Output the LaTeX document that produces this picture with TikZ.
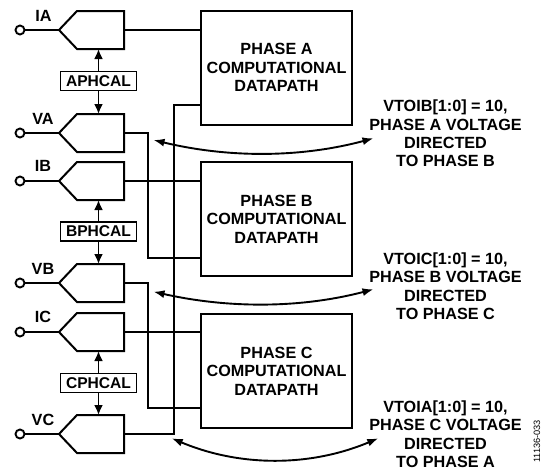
\documentclass[tikz,border=0pt]{standalone}
\usepackage{fontspec}
\setmainfont{Liberation Sans}
\usetikzlibrary{arrows.meta,calc}
\begin{document}
\begin{tikzpicture}[x=1pt,y=-1pt,
  wire/.style={line width=1.9pt},
  txt/.style={font=\fontsize{16.2}{18.4}\selectfont\bfseries, align=center, inner sep=0},
  dpbox/.style={draw, line width=2pt, minimum width=151pt, minimum height=114pt, txt},
  calbox/.style={draw, line width=1.9pt, minimum width=76pt, minimum height=19pt, txt, font=\fontsize{15.6}{18}\selectfont\bfseries},
  inpin/.style={draw, circle, line width=1.9pt, minimum size=9pt, inner sep=0},
  calarrow/.style={line width=1.9pt, -{Latex[length=10pt,width=9pt]}},
  vtarrow/.style={line width=1.9pt, {Latex[length=11pt,width=8pt]}-{Latex[length=11pt,width=8pt]}},
  amp/.pic={
    \draw[line width=2pt, line join=miter] (0,0) -- (18,-19) -- (65,-19) -- (65,19) -- (18,19) -- cycle;
    \coordinate (-tip) at (0,0);
    \coordinate (-out) at (65,0);
    \coordinate (-top) at (39.5,-19);
    \coordinate (-bot) at (39.5,19);
  }
]
\useasboundingbox (0,0) rectangle (545,474);

% amplifiers
\pic (ia) at (59,30) {amp};
\pic (va) at (59,133) {amp};
\pic (ib) at (59,181) {amp};
\pic (vb) at (59,283) {amp};
\pic (ic) at (59,332) {amp};
\pic (vc) at (59,434) {amp};

% input pins
\node[inpin] (ia-in) at (20,30) {};
\node[inpin] (va-in) at (20,133) {};
\node[inpin] (ib-in) at (20,181) {};
\node[inpin] (vb-in) at (20,283) {};
\node[inpin] (ic-in) at (20,332) {};
\node[inpin] (vc-in) at (20,434) {};
\foreach \n in {ia,va,ib,vb,ic,vc} \draw[wire] (\n-in) -- (\n-tip);

% labels
\node[txt] (lia) at (43.5,15.5) {IA};
\node[txt] (lva) at (43,119) {VA};
\node[txt] (lib) at (43,166) {IB};
\node[txt] (lvb) at (43,269) {VB};
\node[txt] (lic) at (43,317) {IC};
\node[txt] (lvc) at (43,420) {VC};

% calibration boxes
\node[calbox] (apc) at (98.5,81) {APHCAL};
\node[calbox] (bpc) at (98.5,231.5) {BPHCAL};
\node[calbox] (cpc) at (98.5,383) {CPHCAL};
\draw[calarrow] (apc.north) -- (ia-bot);
\draw[calarrow] (apc.south) -- (va-top);
\draw[calarrow] (bpc.north) -- (ib-bot);
\draw[calarrow] (bpc.south) -- (vb-top);
\draw[calarrow] (cpc.north) -- (ic-bot);
\draw[calarrow] (cpc.south) -- (vc-top);

% datapath boxes
\node[dpbox] (pa) at (276.5,67.5) {PHASE A\\COMPUTATIONAL\\DATAPATH};
\node[dpbox] (pb) at (276.5,219) {PHASE B\\COMPUTATIONAL\\DATAPATH};
\node[dpbox] (pc) at (276.5,371) {PHASE C\\COMPUTATIONAL\\DATAPATH};

% wires
\coordinate (vaj) at (148,258);
\coordinate (vbj) at (148,408);
\coordinate (vcj) at (174,105);
\draw[wire] (ia-out) -- (ia-out -| pa.west);
\draw[wire] (ib-out) -- (ib-out -| pb.west);
\draw[wire] (ic-out) -- (ic-out -| pc.west);
\draw[wire] (va-out) -| (vaj) -- (vaj -| pb.west);
\draw[wire] (vb-out) -| (vbj) -- (vbj -| pc.west);
\draw[wire] (vc-out) -| (vcj) -- (vcj -| pa.west);

% right-hand notes
\node[txt] (nb) at (445.5,133.5) {VTOIB[1:0] = 10,\\PHASE A VOLTAGE\\DIRECTED\\TO PHASE B};
\node[txt] (nc) at (445.5,286.4) {VTOIC[1:0] = 10,\\PHASE B VOLTAGE\\DIRECTED\\TO PHASE C};
\node[txt] (na) at (445.5,434) {VTOIA[1:0] = 10,\\PHASE C VOLTAGE\\DIRECTED\\TO PHASE A};

% curved double arrows
\coordinate (a1l) at (153.5,140);
\coordinate (a1r) at (373.5,138.3);
\coordinate (a2l) at (153.5,291.7);
\coordinate (a2r) at (373.5,289.3);
\coordinate (a3l) at (171.7,438.3);
\coordinate (a3r) at (378.3,438.3);
\draw[vtarrow] (a1l) .. controls (228,158) and (300,158) .. (a1r);
\draw[vtarrow] (a2l) .. controls (228,308.5) and (300,308.5) .. (a2r);
\draw[vtarrow] (a3l) .. controls (240,467) and (310,467) .. (a3r);

% figure number
\node[rotate=90, font=\fontsize{9.2}{10}\selectfont, inner sep=0] (fig) at (537,441.5) {11136-033};
\end{tikzpicture}
\end{document}
